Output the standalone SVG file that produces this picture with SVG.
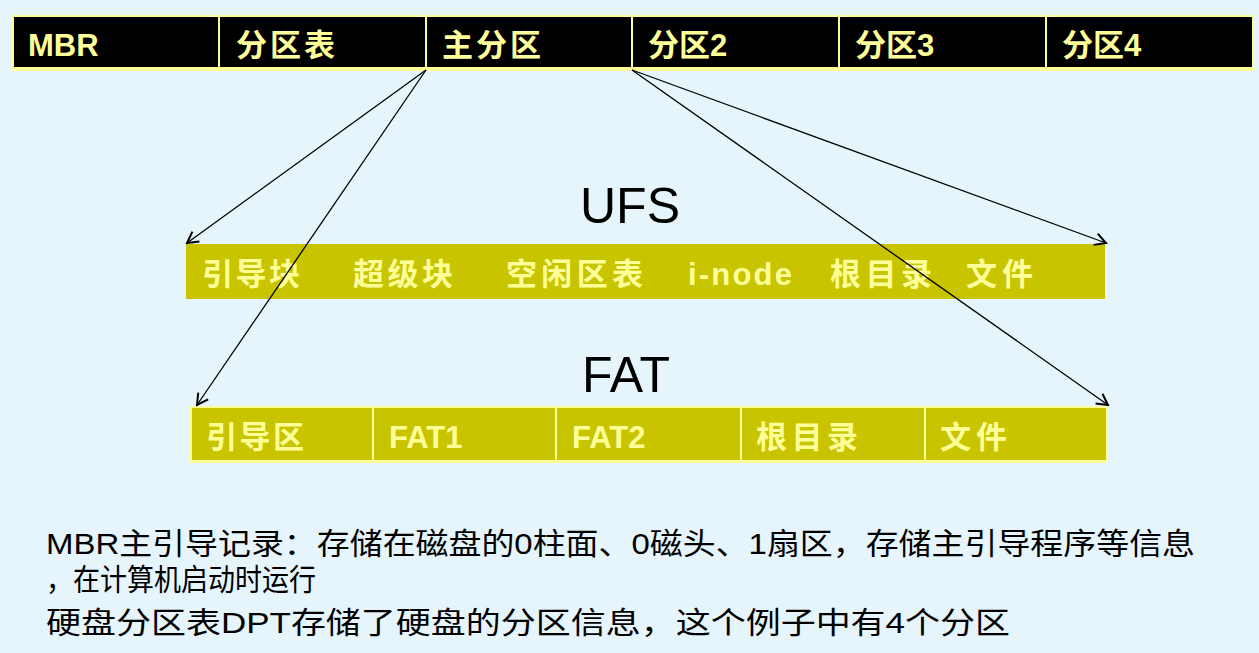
<svg xmlns="http://www.w3.org/2000/svg" width="1259" height="653" viewBox="0 0 1259 653">
<defs>
<style>
.cell{fill:#000;stroke:#ffff99;stroke-width:2}
.ycell{fill:#c8c400;stroke:#ffff99;stroke-width:2}
.lbl{font-family:"Liberation Sans","Noto Sans CJK SC",sans-serif;font-size:31px;font-weight:bold;fill:#ffff99}
.ul{font-family:"Liberation Sans","Noto Sans CJK SC",sans-serif;font-size:31px;font-weight:bold;fill:#ffff99}
.title{font-family:"Liberation Sans",sans-serif;font-size:50px;fill:#000}
.note{font-family:"Liberation Sans","Noto Sans CJK SC",sans-serif;font-size:30px;fill:#000}
.arr{stroke:#000;stroke-width:1.3;fill:none;marker-end:url(#ah)}
</style>
<marker id="ah" markerWidth="14" markerHeight="14" refX="12" refY="7" orient="auto" markerUnits="userSpaceOnUse">
<path d="M1,1 L12,7 L1,13" fill="none" stroke="#000" stroke-width="2"/>
</marker>
</defs>
<rect width="1259" height="653" fill="#e6f4fc"/>
<g id="topbar">
<rect x="12" y="17" width="1242" height="54" fill="#ffff99"/>
<rect class="cell" x="13" y="16" width="206" height="52"/>
<rect class="cell" x="219" y="16" width="207" height="52"/>
<rect class="cell" x="426" y="16" width="206" height="52"/>
<rect class="cell" x="632" y="16" width="207" height="52"/>
<rect class="cell" x="839" y="16" width="207" height="52"/>
<rect class="cell" x="1046" y="16" width="207" height="52"/>
<text class="lbl" x="28" y="56">MBR</text>
<text class="lbl" x="236" y="56" textLength="99">分区表</text>
<text class="lbl" x="442" y="56" textLength="99">主分区</text>
<text class="lbl" x="648" y="56">分区2</text>
<text class="lbl" x="855" y="56">分区3</text>
<text class="lbl" x="1062" y="56">分区4</text>
</g>
<g id="ufs">
<text class="title" x="580" y="223">UFS</text>
<rect x="186" y="244" width="919" height="55" fill="#c8c400"/>
<text class="ul" x="202" y="285" textLength="98">引导块</text>
<text class="ul" x="353" y="285" textLength="100">超级块</text>
<text class="ul" x="506" y="285" textLength="137">空闲区表</text>
<text class="ul" x="688" y="285" textLength="104">i-node</text>
<text class="ul" x="830" y="285" textLength="102">根目录</text>
<text class="ul" x="966" y="285" textLength="67">文件</text>
</g>
<g id="fat">
<text class="title" x="582" y="392">FAT</text>
<rect x="190" y="406" width="918" height="57" fill="#ffff99"/>
<rect class="ycell" x="191" y="407" width="182" height="54"/>
<rect class="ycell" x="373" y="407" width="183" height="54"/>
<rect class="ycell" x="556" y="407" width="185" height="54"/>
<rect class="ycell" x="741" y="407" width="184" height="54"/>
<rect class="ycell" x="925" y="407" width="182" height="54"/>
<text class="ul" x="206" y="448" textLength="98">引导区</text>
<text class="ul" x="389" y="448">FAT1</text>
<text class="ul" x="572" y="448">FAT2</text>
<text class="ul" x="756" y="448" textLength="102">根目录</text>
<text class="ul" x="940" y="448" textLength="67">文件</text>
</g>
<g id="connectors">
<line class="arr" x1="426" y1="70" x2="187" y2="243"/>
<line class="arr" x1="426" y1="70" x2="197" y2="405"/>
<line class="arr" x1="632" y1="70" x2="1106" y2="243"/>
<line class="arr" x1="632" y1="70" x2="1108" y2="405"/>
</g>
<g id="notes">
<text class="note" x="46" y="554" textLength="1149" lengthAdjust="spacingAndGlyphs">MBR主引导记录：存储在磁盘的0柱面、0磁头、1扇区，存储主引导程序等信息</text>
<text class="note" x="46" y="590" textLength="270" lengthAdjust="spacingAndGlyphs">，在计算机启动时运行</text>
<text class="note" x="46" y="633" textLength="964" lengthAdjust="spacingAndGlyphs">硬盘分区表DPT存储了硬盘的分区信息，这个例子中有4个分区</text>
</g>
</svg>
